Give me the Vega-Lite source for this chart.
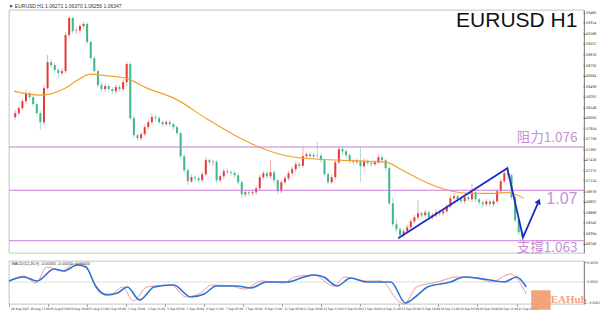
{
"$schema":"https://vega.github.io/schema/vega-lite/v6.json",
"background":"white",
"padding":{"left":5,"top":3,"right":0,"bottom":0},
"spacing":4,
"config":{"view":{"stroke":"#9a9a9a","strokeWidth":0.6},"font":"Liberation Sans","axis":{"title":null,"grid":false,"labels":false,"tickColor":"#888","domainColor":"#888"}},
"datasets":{
"candles":[
{"h":1,"o":1.08014,"c":1.08069,"hi":1.0811,"lo":1.0798},
{"h":4,"o":1.08069,"c":1.08139,"hi":1.0817,"lo":1.0804},
{"h":7,"o":1.08139,"c":1.08236,"hi":1.0827,"lo":1.0811},
{"h":10,"o":1.08236,"c":1.08347,"hi":1.0839,"lo":1.082},
{"h":13,"o":1.08347,"c":1.08292,"hi":1.0838,"lo":1.0826},
{"h":16,"o":1.08292,"c":1.08194,"hi":1.0832,"lo":1.0816},
{"h":19,"o":1.08194,"c":1.08069,"hi":1.0822,"lo":1.0803},
{"h":22,"o":1.08069,"c":1.07944,"hi":1.081,"lo":1.07833},
{"h":25,"o":1.07944,"c":1.08417,"hi":1.0845,"lo":1.0791},
{"h":28,"o":1.08417,"c":1.08778,"hi":1.08875,"lo":1.0839},
{"h":31,"o":1.08778,"c":1.08736,"hi":1.0882,"lo":1.087},
{"h":34,"o":1.08736,"c":1.08667,"hi":1.0877,"lo":1.0863},
{"h":37,"o":1.08667,"c":1.08625,"hi":1.087,"lo":1.0856},
{"h":40,"o":1.08625,"c":1.08653,"hi":1.0869,"lo":1.0859},
{"h":43,"o":1.08653,"c":1.09153,"hi":1.0919,"lo":1.0862},
{"h":46,"o":1.09153,"c":1.09389,"hi":1.09417,"lo":1.0912},
{"h":49,"o":1.09389,"c":1.09208,"hi":1.094,"lo":1.0917},
{"h":52,"o":1.09208,"c":1.09215,"hi":1.0925,"lo":1.0917},
{"h":55,"o":1.09215,"c":1.09278,"hi":1.0931,"lo":1.0918},
{"h":58,"o":1.09278,"c":1.09306,"hi":1.0934,"lo":1.0924},
{"h":61,"o":1.09306,"c":1.09056,"hi":1.0933,"lo":1.0902},
{"h":64,"o":1.09056,"c":1.08833,"hi":1.0908,"lo":1.088},
{"h":67,"o":1.08833,"c":1.08653,"hi":1.0886,"lo":1.0862},
{"h":70,"o":1.08653,"c":1.08458,"hi":1.0868,"lo":1.0842},
{"h":73,"o":1.08458,"c":1.08403,"hi":1.0849,"lo":1.0836},
{"h":76,"o":1.08403,"c":1.08444,"hi":1.0848,"lo":1.0837},
{"h":79,"o":1.08444,"c":1.08403,"hi":1.0847,"lo":1.0836},
{"h":82,"o":1.08403,"c":1.08375,"hi":1.0843,"lo":1.0833},
{"h":85,"o":1.08375,"c":1.08431,"hi":1.0847,"lo":1.0834},
{"h":88,"o":1.08431,"c":1.08403,"hi":1.0846,"lo":1.0837},
{"h":91,"o":1.08403,"c":1.085,"hi":1.0854,"lo":1.0837},
{"h":94,"o":1.085,"c":1.0875,"hi":1.08778,"lo":1.0844},
{"h":97,"o":1.0875,"c":1.08,"hi":1.0878,"lo":1.0797},
{"h":100,"o":1.08,"c":1.07764,"hi":1.0803,"lo":1.0773},
{"h":103,"o":1.07764,"c":1.07722,"hi":1.0779,"lo":1.0768},
{"h":106,"o":1.07722,"c":1.07778,"hi":1.0781,"lo":1.0769},
{"h":109,"o":1.07778,"c":1.07875,"hi":1.0791,"lo":1.0775},
{"h":112,"o":1.07875,"c":1.07944,"hi":1.0798,"lo":1.0784},
{"h":115,"o":1.07944,"c":1.08014,"hi":1.0806,"lo":1.0791},
{"h":118,"o":1.08014,"c":1.08,"hi":1.0805,"lo":1.0796},
{"h":121,"o":1.08,"c":1.07944,"hi":1.0803,"lo":1.0791},
{"h":124,"o":1.07944,"c":1.07917,"hi":1.0797,"lo":1.0788},
{"h":127,"o":1.07917,"c":1.07944,"hi":1.0798,"lo":1.0789},
{"h":130,"o":1.07944,"c":1.07917,"hi":1.0797,"lo":1.0788},
{"h":133,"o":1.07917,"c":1.07875,"hi":1.0794,"lo":1.0784},
{"h":136,"o":1.07875,"c":1.07792,"hi":1.079,"lo":1.0776},
{"h":139,"o":1.07792,"c":1.07472,"hi":1.0781,"lo":1.0744},
{"h":142,"o":1.07472,"c":1.07278,"hi":1.075,"lo":1.0724},
{"h":145,"o":1.07278,"c":1.07125,"hi":1.073,"lo":1.07069},
{"h":148,"o":1.07125,"c":1.07181,"hi":1.0722,"lo":1.071},
{"h":151,"o":1.07181,"c":1.07167,"hi":1.0721,"lo":1.0713},
{"h":154,"o":1.07167,"c":1.07139,"hi":1.072,"lo":1.071},
{"h":157,"o":1.07139,"c":1.07222,"hi":1.0726,"lo":1.0711},
{"h":160,"o":1.07222,"c":1.07417,"hi":1.07458,"lo":1.072},
{"h":163,"o":1.07417,"c":1.07389,"hi":1.0744,"lo":1.0735},
{"h":166,"o":1.07389,"c":1.07395,"hi":1.0743,"lo":1.0734},
{"h":169,"o":1.07395,"c":1.07139,"hi":1.0742,"lo":1.071},
{"h":172,"o":1.07139,"c":1.07194,"hi":1.0723,"lo":1.0711},
{"h":175,"o":1.07194,"c":1.07264,"hi":1.073,"lo":1.0716},
{"h":178,"o":1.07264,"c":1.0725,"hi":1.073,"lo":1.0722},
{"h":181,"o":1.0725,"c":1.0724,"hi":1.0728,"lo":1.072},
{"h":184,"o":1.0724,"c":1.07208,"hi":1.0727,"lo":1.0717},
{"h":187,"o":1.07208,"c":1.07111,"hi":1.0724,"lo":1.0708},
{"h":190,"o":1.07111,"c":1.06944,"hi":1.0714,"lo":1.06889},
{"h":193,"o":1.06944,"c":1.06972,"hi":1.0701,"lo":1.0691},
{"h":196,"o":1.06972,"c":1.06958,"hi":1.07,"lo":1.0692},
{"h":199,"o":1.06958,"c":1.06972,"hi":1.0701,"lo":1.0693},
{"h":202,"o":1.06972,"c":1.07028,"hi":1.0706,"lo":1.0694},
{"h":205,"o":1.07028,"c":1.07181,"hi":1.0722,"lo":1.07},
{"h":208,"o":1.07181,"c":1.07236,"hi":1.0727,"lo":1.0715},
{"h":211,"o":1.07236,"c":1.07194,"hi":1.0726,"lo":1.0716},
{"h":214,"o":1.07194,"c":1.0725,"hi":1.07417,"lo":1.0716},
{"h":217,"o":1.0725,"c":1.07139,"hi":1.0728,"lo":1.071},
{"h":220,"o":1.07139,"c":1.06986,"hi":1.0716,"lo":1.0695},
{"h":223,"o":1.06986,"c":1.07111,"hi":1.0714,"lo":1.0696},
{"h":226,"o":1.07111,"c":1.07167,"hi":1.072,"lo":1.0708},
{"h":229,"o":1.07167,"c":1.07236,"hi":1.0727,"lo":1.0713},
{"h":232,"o":1.07236,"c":1.07292,"hi":1.0733,"lo":1.072},
{"h":235,"o":1.07292,"c":1.07361,"hi":1.074,"lo":1.0726},
{"h":238,"o":1.07361,"c":1.0734,"hi":1.0739,"lo":1.073},
{"h":241,"o":1.0734,"c":1.07472,"hi":1.07597,"lo":1.0731},
{"h":244,"o":1.07472,"c":1.075,"hi":1.0754,"lo":1.0744},
{"h":247,"o":1.075,"c":1.07472,"hi":1.0753,"lo":1.0743},
{"h":250,"o":1.07472,"c":1.07486,"hi":1.0752,"lo":1.0744},
{"h":253,"o":1.07486,"c":1.0748,"hi":1.07667,"lo":1.0744},
{"h":256,"o":1.0748,"c":1.07417,"hi":1.0751,"lo":1.0738},
{"h":259,"o":1.07417,"c":1.07222,"hi":1.0744,"lo":1.0719},
{"h":262,"o":1.07222,"c":1.07111,"hi":1.0725,"lo":1.0708},
{"h":265,"o":1.07111,"c":1.07181,"hi":1.0722,"lo":1.0709},
{"h":268,"o":1.07181,"c":1.07389,"hi":1.0742,"lo":1.0715},
{"h":271,"o":1.07389,"c":1.07569,"hi":1.076,"lo":1.0736},
{"h":274,"o":1.07569,"c":1.0754,"hi":1.07611,"lo":1.075},
{"h":277,"o":1.0754,"c":1.07486,"hi":1.0757,"lo":1.0745},
{"h":280,"o":1.07486,"c":1.07403,"hi":1.0751,"lo":1.0737},
{"h":283,"o":1.07403,"c":1.07389,"hi":1.0743,"lo":1.0735},
{"h":286,"o":1.07389,"c":1.07403,"hi":1.0744,"lo":1.0736},
{"h":289,"o":1.07403,"c":1.07333,"hi":1.07611,"lo":1.07111},
{"h":292,"o":1.07333,"c":1.07403,"hi":1.0744,"lo":1.073},
{"h":295,"o":1.07403,"c":1.07375,"hi":1.0743,"lo":1.0734},
{"h":298,"o":1.07375,"c":1.07361,"hi":1.074,"lo":1.0732},
{"h":301,"o":1.07361,"c":1.07389,"hi":1.0742,"lo":1.0733},
{"h":304,"o":1.07389,"c":1.07458,"hi":1.075,"lo":1.0736},
{"h":307,"o":1.07458,"c":1.07417,"hi":1.0749,"lo":1.0738},
{"h":310,"o":1.07417,"c":1.07306,"hi":1.0744,"lo":1.0727},
{"h":313,"o":1.07306,"c":1.06819,"hi":1.0733,"lo":1.0679},
{"h":316,"o":1.06819,"c":1.06528,"hi":1.069,"lo":1.0649},
{"h":319,"o":1.06528,"c":1.06458,"hi":1.066,"lo":1.0642},
{"h":322,"o":1.06458,"c":1.06375,"hi":1.0649,"lo":1.0632},
{"h":325,"o":1.06375,"c":1.06431,"hi":1.0647,"lo":1.0634},
{"h":328,"o":1.06431,"c":1.06486,"hi":1.0652,"lo":1.064},
{"h":331,"o":1.06486,"c":1.06569,"hi":1.066,"lo":1.0645},
{"h":334,"o":1.06569,"c":1.06625,"hi":1.0666,"lo":1.0654},
{"h":337,"o":1.06625,"c":1.06681,"hi":1.06861,"lo":1.0659},
{"h":340,"o":1.06681,"c":1.06653,"hi":1.0671,"lo":1.0661},
{"h":343,"o":1.06653,"c":1.06694,"hi":1.0673,"lo":1.0662},
{"h":346,"o":1.06694,"c":1.06625,"hi":1.0672,"lo":1.0659},
{"h":349,"o":1.06625,"c":1.06653,"hi":1.0669,"lo":1.0659},
{"h":352,"o":1.06653,"c":1.06694,"hi":1.0673,"lo":1.0662},
{"h":355,"o":1.06694,"c":1.0668,"hi":1.0673,"lo":1.0664},
{"h":358,"o":1.0668,"c":1.06708,"hi":1.0674,"lo":1.0665},
{"h":361,"o":1.06708,"c":1.06778,"hi":1.0681,"lo":1.0668},
{"h":364,"o":1.06778,"c":1.06889,"hi":1.0693,"lo":1.0675},
{"h":367,"o":1.06889,"c":1.06917,"hi":1.0696,"lo":1.0686},
{"h":370,"o":1.06917,"c":1.06875,"hi":1.0695,"lo":1.0684},
{"h":373,"o":1.06875,"c":1.06847,"hi":1.069,"lo":1.0681},
{"h":376,"o":1.06847,"c":1.06903,"hi":1.0694,"lo":1.0681},
{"h":379,"o":1.06903,"c":1.06875,"hi":1.0693,"lo":1.0684},
{"h":382,"o":1.06875,"c":1.06972,"hi":1.07097,"lo":1.0684},
{"h":385,"o":1.06972,"c":1.06875,"hi":1.07,"lo":1.0684},
{"h":388,"o":1.06875,"c":1.06833,"hi":1.069,"lo":1.0679},
{"h":391,"o":1.06833,"c":1.06806,"hi":1.0686,"lo":1.0676},
{"h":394,"o":1.06806,"c":1.06847,"hi":1.0688,"lo":1.0677},
{"h":397,"o":1.06847,"c":1.06806,"hi":1.0687,"lo":1.0677},
{"h":400,"o":1.06806,"c":1.06847,"hi":1.0688,"lo":1.0677},
{"h":403,"o":1.06847,"c":1.06986,"hi":1.0702,"lo":1.0682},
{"h":406,"o":1.06986,"c":1.07125,"hi":1.0716,"lo":1.0695},
{"h":409,"o":1.07125,"c":1.07236,"hi":1.0729,"lo":1.071},
{"h":412,"o":1.07236,"c":1.07208,"hi":1.07347,"lo":1.0715},
{"h":415,"o":1.07208,"c":1.06903,"hi":1.0723,"lo":1.0687},
{"h":418,"o":1.06903,"c":1.06583,"hi":1.0693,"lo":1.0655},
{"h":421,"o":1.06583,"c":1.06417,"hi":1.0661,"lo":1.0638},
{"h":424,"o":1.06417,"c":1.06361,"hi":1.0645,"lo":1.06306}
],
"ma":[{"h":0,"p":1.08375},{"h":22,"p":1.08319},{"h":43,"p":1.08417},{"h":53,"p":1.08528},{"h":64,"p":1.08611},{"h":72,"p":1.08597},{"h":93,"p":1.08556},{"h":111,"p":1.08417},{"h":135,"p":1.08264},{"h":160,"p":1.08},{"h":184,"p":1.07764},{"h":207,"p":1.07583},{"h":225,"p":1.07486},{"h":242,"p":1.07444},{"h":272,"p":1.07417},{"h":310,"p":1.07389},{"h":324,"p":1.07278},{"h":340,"p":1.07139},{"h":362,"p":1.07},{"h":379,"p":1.06958},{"h":400,"p":1.06958},{"h":411,"p":1.06972},{"h":418,"p":1.06944},{"h":425,"p":1.06889}],
"levels":[{"p":1.076},{"p":1.07},{"p":1.063}],
"pattern":[{"o":1,"h":320.5,"p":1.06333},{"o":2,"h":411.5,"p":1.07306},{"o":3,"h":424.6,"p":1.06347},{"o":4,"h":437.7,"p":1.06847}],
"pticks":[{"v":1.0946},{"v":1.09314},{"v":1.09168},{"v":1.09022},{"v":1.08876},{"v":1.0873},{"v":1.08584},{"v":1.08438},{"v":1.08292},{"v":1.08146},{"v":1.08},{"v":1.07854},{"v":1.07708},{"v":1.07562},{"v":1.07416},{"v":1.0727},{"v":1.07124},{"v":1.06978},{"v":1.06832},{"v":1.06686},{"v":1.0654},{"v":1.06394},{"v":1.06248}],
"tticks":[{"h":0,"t":"28 Aug 2023"},{"h":16,"t":"29 Aug 11:00"},{"h":32,"t":"30 Aug 03:00"},{"h":48,"t":"30 Aug 19:00"},{"h":64,"t":"31 Aug 11:00"},{"h":80,"t":"1 Sep 03:00"},{"h":96,"t":"1 Sep 19:00"},{"h":112,"t":"4 Sep 11:00"},{"h":128,"t":"5 Sep 03:00"},{"h":144,"t":"5 Sep 19:00"},{"h":160,"t":"6 Sep 11:00"},{"h":176,"t":"7 Sep 03:00"},{"h":192,"t":"7 Sep 19:00"},{"h":208,"t":"8 Sep 11:00"},{"h":224,"t":"11 Sep 03:00"},{"h":240,"t":"11 Sep 19:00"},{"h":256,"t":"12 Sep 11:00"},{"h":272,"t":"13 Sep 03:00"},{"h":288,"t":"13 Sep 19:00"},{"h":304,"t":"14 Sep 11:00"},{"h":320,"t":"15 Sep 03:00"},{"h":336,"t":"15 Sep 19:00"},{"h":352,"t":"18 Sep 11:00"},{"h":368,"t":"19 Sep 03:00"},{"h":384,"t":"19 Sep 19:00"},{"h":400,"t":"20 Sep 11:00"},{"h":416,"t":"21 Sep 03:00"}],
"iticks":[{"v":0.0039},{"v":0},{"v":-0.0041}],
"blue":[{"h":0,"v":0.0002},{"h":12,"v":0.001},{"h":23,"v":0.0002},{"h":37,"v":0.0026},{"h":45,"v":0.0022},{"h":56,"v":0.0034},{"h":63,"v":0.003},{"h":71,"v":-0.0008},{"h":80,"v":-0.0026},{"h":89,"v":-0.0022},{"h":97,"v":-0.001},{"h":107,"v":-0.0036},{"h":119,"v":-0.001},{"h":135,"v":-0.0006},{"h":149,"v":-0.003},{"h":160,"v":-0.0024},{"h":170,"v":-0.0008},{"h":187,"v":-0.0008},{"h":198,"v":-0.0012},{"h":211,"v":0},{"h":228,"v":0},{"h":242,"v":0.001},{"h":250,"v":0.0014},{"h":258,"v":0.001},{"h":269,"v":-0.0008},{"h":280,"v":0.0008},{"h":293,"v":0},{"h":313,"v":0},{"h":325,"v":-0.0042},{"h":334,"v":-0.0028},{"h":343,"v":-0.001},{"h":362,"v":0},{"h":373,"v":0.001},{"h":389,"v":0.0006},{"h":406,"v":0},{"h":416,"v":0.001},{"h":424,"v":-0.001}],
"red":[{"h":0,"v":0.0002},{"h":12,"v":0.0012},{"h":22,"v":-0.0002},{"h":31,"v":0.003},{"h":43,"v":0.0022},{"h":53,"v":0.0036},{"h":61,"v":0.0036},{"h":75,"v":-0.0022},{"h":84,"v":-0.0024},{"h":93,"v":-0.001},{"h":102,"v":-0.0038},{"h":113,"v":-0.001},{"h":133,"v":-0.0006},{"h":145,"v":-0.003},{"h":157,"v":-0.0022},{"h":166,"v":-0.0006},{"h":182,"v":-0.0008},{"h":193,"v":-0.0014},{"h":207,"v":0.0002},{"h":225,"v":-0.0002},{"h":234,"v":0.001},{"h":250,"v":0.0014},{"h":266,"v":-0.0008},{"h":275,"v":0.001},{"h":293,"v":0.0002},{"h":305,"v":0.0002},{"h":320,"v":-0.004},{"h":324,"v":-0.0044},{"h":334,"v":-0.001},{"h":351,"v":0},{"h":367,"v":0.001},{"h":384,"v":0.0008},{"h":395,"v":0},{"h":411,"v":0.0016},{"h":424,"v":-0.0024}]
},
"vconcat":[
{
"width":575,"height":243,
"title":{"text":"▼ EURUSD,H1  1.06271 1.06370 1.06256 1.06347","fontSize":5,"fontWeight":"normal","anchor":"start","offset":1,"color":"#333","font":"Liberation Sans"},
"layer":[
{"data":{"name":"candles"},"mark":{"type":"rule","strokeWidth":0.8,"opacity":0.55},
 "encoding":{
  "x":{"field":"h","type":"quantitative","scale":{"domain":[0,471.3],"nice":false,"zero":false},"axis":null},
  "y":{"field":"lo","type":"quantitative","scale":{"domain":[1.0613,1.095],"nice":false,"zero":false},
       "axis":{"orient":"right","values":[1.0946,1.09314,1.09168,1.09022,1.08876,1.0873,1.08584,1.08438,1.08292,1.08146,1.08,1.07854,1.07708,1.07562,1.07416,1.0727,1.07124,1.06978,1.06832,1.06686,1.0654,1.06394,1.06248],"tickSize":2,"labels":false}},
  "y2":{"field":"hi"},
  "color":{"condition":{"test":"datum.c >= datum.o","value":"#e03c3c"},"value":"#3fb68a"}}},
{"data":{"name":"candles"},"mark":{"type":"bar","width":2},
 "encoding":{
  "x":{"field":"h","type":"quantitative"},
  "y":{"field":"o","type":"quantitative"},
  "y2":{"field":"c"},
  "color":{"condition":{"test":"datum.c >= datum.o","value":"#e03c3c"},"value":"#3fb68a"}}},
{"data":{"name":"ma"},"mark":{"type":"line","color":"#f5a02c","strokeWidth":1.2,"interpolate":"monotone"},
 "encoding":{"x":{"field":"h","type":"quantitative"},"y":{"field":"p","type":"quantitative"}}},
{"data":{"name":"levels"},"mark":{"type":"rule","color":"#c77fd6","strokeWidth":1},
 "encoding":{"y":{"field":"p","type":"quantitative"}}},
{"data":{"name":"pattern"},"mark":{"type":"line","color":"#1a2ec0","strokeWidth":1.8},
 "encoding":{"x":{"field":"h","type":"quantitative"},"y":{"field":"p","type":"quantitative"},"order":{"field":"o","type":"quantitative"}}},
{"data":{"values":[{}]},"mark":{"type":"point","shape":"triangle-up","filled":true,"size":45,"color":"#1a2ec0","angle":24,"opacity":1},
 "encoding":{"x":{"datum":437.7},"y":{"datum":1.06847}}},
{"data":{"name":"pticks"},"mark":{"type":"text","align":"left","baseline":"middle","fontSize":3.6,"dx":4,"color":"#333","font":"'Liberation Sans Narrow', 'DejaVu Sans Condensed', 'Liberation Sans'"},
 "encoding":{"x":{"datum":471.3},"y":{"field":"v","type":"quantitative"},"text":{"field":"v","type":"quantitative","format":".5f"}}},
{"data":{"values":[{}]},"mark":{"type":"text","align":"right","baseline":"middle","fontSize":21,"font":"Liberation Sans","color":"#111"},
 "encoding":{"x":{"datum":470},"y":{"datum":1.0935},"text":{"value":"EURUSD H1"}}},
{"data":{"values":[{}]},"mark":{"type":"text","align":"right","baseline":"middle","fontSize":13.5,"font":"Noto Sans CJK TC","color":"#c58fd8"},
 "encoding":{"x":{"datum":470},"y":{"datum":1.0772},"text":{"value":"阻力1.076"}}},
{"data":{"values":[{}]},"mark":{"type":"text","align":"right","baseline":"middle","fontSize":16,"font":"Liberation Sans","color":"#c58fd8"},
 "encoding":{"x":{"datum":470},"y":{"datum":1.06875},"text":{"value":"1.07"}}},
{"data":{"values":[{}]},"mark":{"type":"text","align":"right","baseline":"middle","fontSize":13.5,"font":"Noto Sans CJK TC","color":"#c58fd8"},
 "encoding":{"x":{"datum":470},"y":{"datum":1.06194},"text":{"value":"支撐1.063"}}}
]
},
{
"width":575,"height":43,
"layer":[
{"data":{"values":[{}]},"mark":{"type":"rule","color":"#c8c8c8","strokeWidth":0.6},
 "encoding":{
  "x":{"datum":0,"type":"quantitative","scale":{"domain":[0,471.3],"nice":false,"zero":false},
       "axis":{"values":[0,16,32,48,64,80,96,112,128,144,160,176,192,208,224,240,256,272,288,304,320,336,352,368,384,400,416],"labels":false,"tickSize":2,"domain":false}},
  "x2":{"datum":471.3},
  "y":{"datum":0,"type":"quantitative","scale":{"domain":[-0.0044,0.0042],"nice":false,"zero":false},
       "axis":{"orient":"right","values":[0.0039,0,-0.0041],"tickSize":2,"labels":false}}}},
{"data":{"name":"red"},"mark":{"type":"line","color":"#f08c8c","strokeWidth":0.9,"interpolate":"monotone"},
 "encoding":{"x":{"field":"h","type":"quantitative"},"y":{"field":"v","type":"quantitative"}}},
{"data":{"name":"blue"},"mark":{"type":"line","color":"#2f72d6","strokeWidth":1.6,"interpolate":"monotone"},
 "encoding":{"x":{"field":"h","type":"quantitative"},"y":{"field":"v","type":"quantitative"}}},
{"data":{"name":"tticks"},"mark":{"type":"text","align":"left","baseline":"top","fontSize":3.2,"dx":2,"dy":2.5,"color":"#333","font":"'Liberation Sans Narrow', 'DejaVu Sans Condensed', 'Liberation Sans'"},
 "encoding":{"x":{"field":"h","type":"quantitative"},"y":{"datum":-0.0044},"text":{"field":"t","type":"nominal"}}},
{"data":{"name":"iticks"},"mark":{"type":"text","align":"left","baseline":"middle","fontSize":3.4,"dx":3,"color":"#333","font":"'Liberation Sans Narrow', 'DejaVu Sans Condensed', 'Liberation Sans'"},
 "encoding":{"x":{"datum":471.3},"y":{"field":"v","type":"quantitative"},"text":{"field":"v","type":"quantitative","format":".4f"}}},
{"data":{"values":[{}]},"mark":{"type":"text","align":"left","baseline":"top","fontSize":4,"dy":1,"color":"#333"},
 "encoding":{"x":{"datum":2},"y":{"datum":0.0042},"text":{"value":"MACD(12,26,9) -0.00065 -0.00031 -0.00034"}}},
{"data":{"values":[{}]},"mark":{"type":"point","shape":"square","filled":true,"size":380,"color":"#f29a6e","opacity":0.9},
 "encoding":{"x":{"datum":436},"y":{"datum":-0.0036}}},
{"data":{"values":[{}]},"mark":{"type":"text","align":"left","baseline":"middle","fontSize":11,"font":"Liberation Serif","fontWeight":"bold","color":"#f29a6e","opacity":0.9},
 "encoding":{"x":{"datum":444},"y":{"datum":-0.0036},"text":{"value":"EAHub"}}}
]
}
]
}
